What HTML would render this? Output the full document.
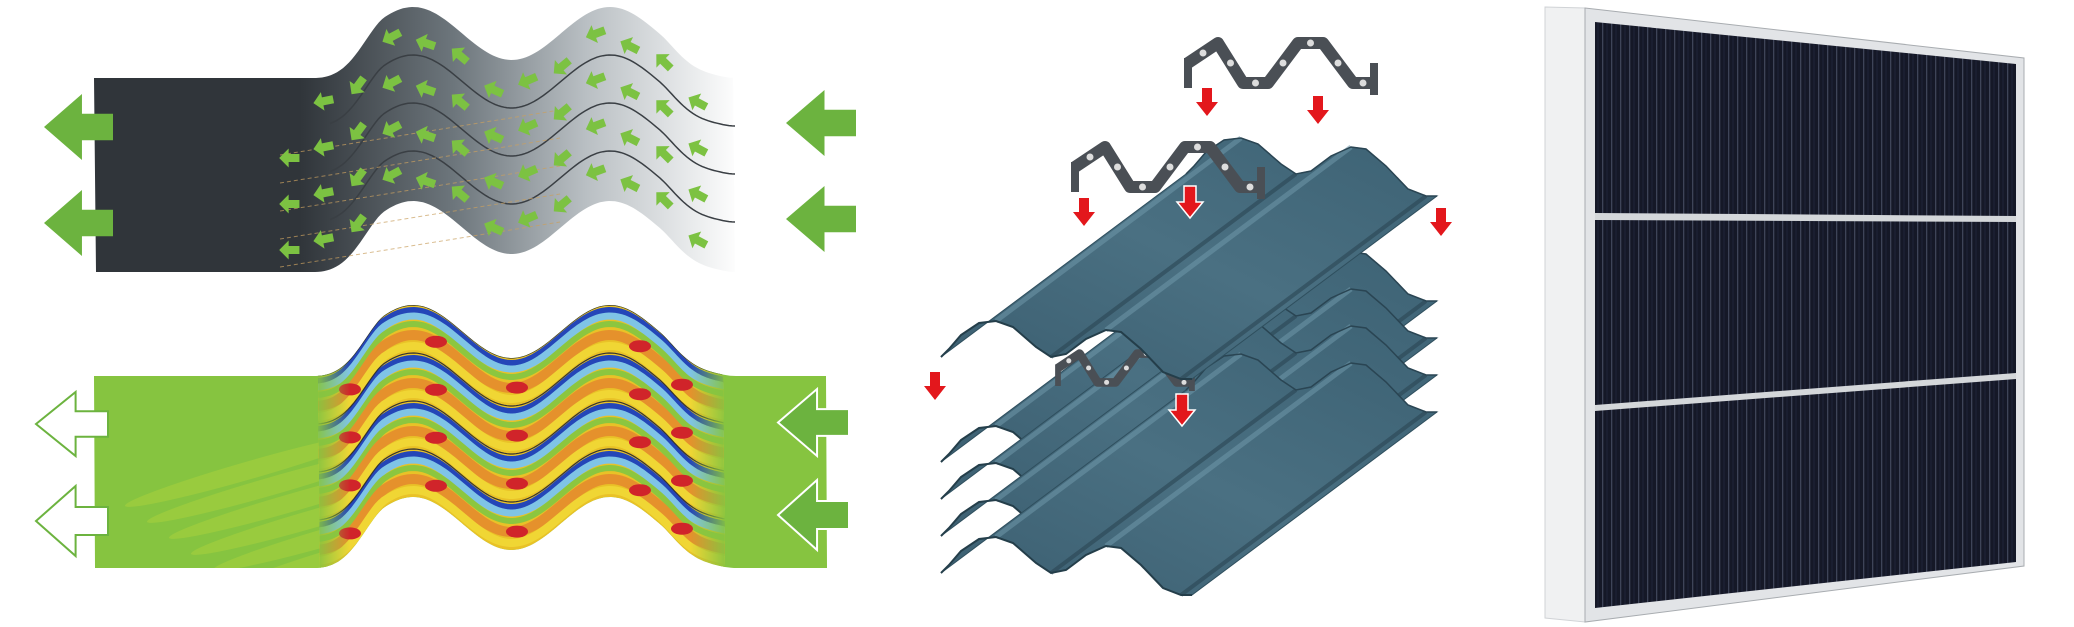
<!DOCTYPE html>
<html><head><meta charset="utf-8"><style>
html,body{margin:0;padding:0;background:#fff;}
svg{display:block;}
</style></head><body>
<svg id="s" width="2074" height="627" viewBox="0 0 2074 627" xmlns="http://www.w3.org/2000/svg">
<defs>
<linearGradient id="dg" gradientUnits="userSpaceOnUse" x1="300" y1="0" x2="740" y2="0">
<stop offset="0" stop-color="#30353a"/><stop offset="0.35" stop-color="#6d767c"/><stop offset="0.65" stop-color="#b9bfc3"/><stop offset="1" stop-color="#ffffff"/>
</linearGradient>
<linearGradient id="sheet" x1="0" y1="1" x2="1" y2="0">
<stop offset="0" stop-color="#3b5e70"/><stop offset="0.5" stop-color="#4a7082"/><stop offset="1" stop-color="#3d6274"/>
</linearGradient>
<linearGradient id="fadeL" gradientUnits="userSpaceOnUse" x1="315" y1="0" x2="350" y2="0">
<stop offset="0" stop-color="#86c440" stop-opacity="1"/><stop offset="1" stop-color="#86c440" stop-opacity="0"/>
</linearGradient>
<linearGradient id="fadeR" gradientUnits="userSpaceOnUse" x1="690" y1="0" x2="728" y2="0">
<stop offset="0" stop-color="#86c440" stop-opacity="0"/><stop offset="1" stop-color="#86c440" stop-opacity="1"/>
</linearGradient>
<pattern id="pleat" width="9" height="10" patternUnits="userSpaceOnUse">
<rect width="9" height="10" fill="#151827"/><rect x="0" width="1.3" height="10" fill="#3e4458"/><rect x="4.5" width="1" height="10" fill="#20243a"/>
</pattern>
</defs>
<g id="g"></g>
</svg>
<script>
var o='';
function sm(a,b,x){var t=Math.min(1,Math.max(0,(x-a)/(b-a)));return t*t*(3-2*t);}
function s(x){var e=sm(315,385,x)*(1-sm(660,735,x));return e*(-44.5-26.5*Math.cos(2*Math.PI*(x-413)/197));}
function band(x0,x1,yt,yb){var p='M'+x0+','+(yt+s(x0));for(var x=x0;x<=x1;x+=3)p+=' L'+x+','+(yt+s(x)).toFixed(1);for(var x=x1;x>=x0;x-=3)p+=' L'+x+','+(yb+s(x)).toFixed(1);return p+'Z';}
function line(x0,x1,y){var p='M'+x0+','+(y+s(x0)).toFixed(1);for(var x=x0;x<=x1;x+=3)p+=' L'+x+','+(y+s(x)).toFixed(1);return p;}
function bigArrow(x,y,w,h,fill,stroke){var p=[[x,y+h/2],[x+w*0.55,y],[x+w*0.55,y+h*0.3],[x+w,y+h*0.3],[x+w,y+h*0.7],[x+w*0.55,y+h*0.7],[x+w*0.55,y+h]];return '<polygon points="'+p.map(function(a){return a.join(',')}).join(' ')+'" fill="'+fill+'" stroke="'+stroke+'" stroke-width="2"/>';}
// top diagram
o+='<path d="'+band(94,735,78,272)+'" fill="url(#dg)"/>';
[48,96,144].forEach(function(k){o+='<path d="'+line(330,735,78+k)+'" fill="none" stroke="#3a3f44" stroke-width="1.5"/>';});
for(var i=0;i<5;i++){var y=130+i*28;o+='<line x1="280" y1="'+(y+25)+'" x2="560" y2="'+(y-20)+'" stroke="#c9a060" stroke-width="1" stroke-dasharray="4,3" opacity="0.7"/>';}
for(var x=290;x<=720;x+=34){for(var k=0;k<4;k++){var yy=78+s(x)+24+k*46+((Math.round(x/34))%2)*10;if(x<320&&k==0)continue;var ang=Math.atan2(s(x+3)-s(x-3),6)*180/Math.PI;o+='<g transform="translate('+x+','+yy.toFixed(1)+') rotate('+ang.toFixed(1)+') scale(1.35)"><polygon points="-8,0 -1,-7 -1,-3 7,-3 7,3 -1,3 -1,7" fill="#7cc242"/></g>';}}
o+=bigArrow(44,94,69,66,'#6cb33f','none')+bigArrow(44,190,69,66,'#6cb33f','none');
o+=bigArrow(786,90,70,66,'#6cb33f','none')+bigArrow(786,186,70,66,'#6cb33f','none');
// bottom diagram
o+='<clipPath id="bc"><path d="'+band(94,827,376,568)+'"/></clipPath>';
o+='<path d="'+band(94,827,376,568)+'" fill="#86c440"/>';
o+='<g clip-path="url(#bc)">';
for(var i=0;i<6;i++){var cx=250+i*22,cy=470+i*16;o+='<ellipse cx="'+cx+'" cy="'+cy+'" rx="130" ry="9" transform="rotate(-16 '+cx+' '+cy+')" fill="#a9d23c" opacity="0.55"/>';}
o+='</g>';
o+='<clipPath id="wc"><path d="'+band(318,725,376,568)+'"/></clipPath><g clip-path="url(#wc)">';
o+='<path d="'+band(300,740,376,568)+'" fill="#e9c227"/>';
for(var k=0;k<4;k++){var b=376+k*48;
o+='<path d="'+line(300,740,b+5)+'" fill="none" stroke="#2446b8" stroke-width="6"/>';
o+='<path d="'+line(300,740,b+11)+'" fill="none" stroke="#7fc4e6" stroke-width="7"/>';
o+='<path d="'+line(300,740,b+19)+'" fill="none" stroke="#8cc63f" stroke-width="6"/>';
o+='<path d="'+line(300,740,b+30)+'" fill="none" stroke="#e5912c" stroke-width="10"/>';
o+='<path d="'+line(300,740,b+41)+'" fill="none" stroke="#f0d634" stroke-width="8"/>';
[350,436,517,640,682].forEach(function(c){o+='<ellipse cx="'+c+'" cy="'+(b+30+s(c)).toFixed(1)+'" rx="11" ry="6" fill="#d0242a"/>';});
o+='<path d="'+line(300,740,b)+'" fill="none" stroke="#333" stroke-width="1.2"/>';}
o+='<rect x="300" y="280" width="52" height="300" fill="url(#fadeL)"/><rect x="688" y="280" width="45" height="300" fill="url(#fadeR)"/>';
o+='</g>';
o+=bigArrow(36,392,72,64,'#fff','#6cb33f')+bigArrow(36,486,72,70,'#fff','#6cb33f');
o+=bigArrow(778,389,71,67,'#6cb33f','#fff')+bigArrow(778,480,71,70,'#6cb33f','#fff');
// middle sheets
var prof=[[0,0],[8,-8],[20,-22],[38,-34],[55,-36],[72,-30],[95,-10],[110,0],[125,-3],[145,-18],[165,-27],[180,-25],[200,-8],[222,15],[240,22],[251,22]];
var V=[245,-183];
function sheet(x,y){var f=prof.map(function(p){return (x+p[0])+','+(y+p[1])});var b=prof.slice().reverse().map(function(p){return (x+p[0]+V[0])+','+(y+p[1]+V[1])});
var r='<polygon points="'+f.concat(b).join(' ')+'" fill="url(#sheet)" stroke="#2f4f5e" stroke-width="1"/>';
[4,10].forEach(function(i){var p=prof[i];r+='<line x1="'+(x+p[0])+'" y1="'+(y+p[1])+'" x2="'+(x+p[0]+V[0])+'" y2="'+(y+p[1]+V[1])+'" stroke="#6f98aa" stroke-width="5" opacity="0.55"/>';});
[7,14].forEach(function(i){var p=prof[i];r+='<line x1="'+(x+p[0])+'" y1="'+(y+p[1])+'" x2="'+(x+p[0]+V[0])+'" y2="'+(y+p[1]+V[1])+'" stroke="#2b4654" stroke-width="4" opacity="0.6"/>';});
r+='<polyline points="'+f.join(' ')+'" fill="none" stroke="#243e4a" stroke-width="2"/>';
r+='<polyline points="'+prof.map(function(p){return (x+p[0]+V[0])+','+(y+p[1]+V[1])}).join(' ')+'" fill="none" stroke="#2a4553" stroke-width="1.5"/>';return r;}
function conn(x,y,sc){var pts=[[0,25],[30,5],[55,45],[80,45],[110,5],[135,5],[165,45],[185,45]];var r='<g transform="translate('+x+','+y+') scale('+sc+')"><polyline points="'+pts.map(function(p){return p[0]+','+p[1]}).join(' ')+'" fill="none" stroke="#4a4f55" stroke-width="12" stroke-linejoin="round"/>';
pts.forEach(function(p,i){if(i<pts.length-1){var q=pts[i+1];r+='<circle cx="'+((p[0]+q[0])/2)+'" cy="'+((p[1]+q[1])/2)+'" r="3.5" fill="#ddd"/>';}});
r+='<rect x="-4" y="20" width="8" height="30" fill="#4a4f55"/><rect x="182" y="25" width="8" height="32" fill="#4a4f55"/></g>';return r;}
for(var k=0;k<4;k++)o+=sheet(941,462+k*37);
o+=conn(1058,350,0.72);
o+=sheet(941,357);
o+=conn(1188,38,1)+conn(1075,142,1);
function red(x,y,big){var w=big?12:10,hw=big?26:22,l=big?32:28;return '<polygon points="'+(x-w/2)+','+y+' '+(x+w/2)+','+y+' '+(x+w/2)+','+(y+l*0.5)+' '+(x+hw/2)+','+(y+l*0.5)+' '+x+','+(y+l)+' '+(x-hw/2)+','+(y+l*0.5)+' '+(x-w/2)+','+(y+l*0.5)+'" fill="#e3171c" stroke="'+(big?'#fff':'none')+'" stroke-width="1.5"/>';}
o+=red(1207,88)+red(1318,96)+red(1084,198)+red(1190,186,1)+red(1441,208)+red(935,372)+red(1182,394,1);
// right panel
o+='<polygon points="1545,7 1585,8 1585,622 1545,618" fill="#f0f1f2" stroke="#d0d3d6"/>';
o+='<polygon points="1585,8 2024,58 2024,566 1585,622" fill="#e2e4e7" stroke="#a8acb0"/>';
o+='<polygon points="1595,22 2016,64 2016,562 1595,608" fill="url(#pleat)"/>';
o+='<polygon points="1595,213 2016,216 2016,222 1595,220" fill="#d4d7da"/>';
o+='<polygon points="1595,405 2016,373 2016,379 1595,411" fill="#d4d7da"/>';
document.getElementById('g').innerHTML=o;
</script>
</body></html>
